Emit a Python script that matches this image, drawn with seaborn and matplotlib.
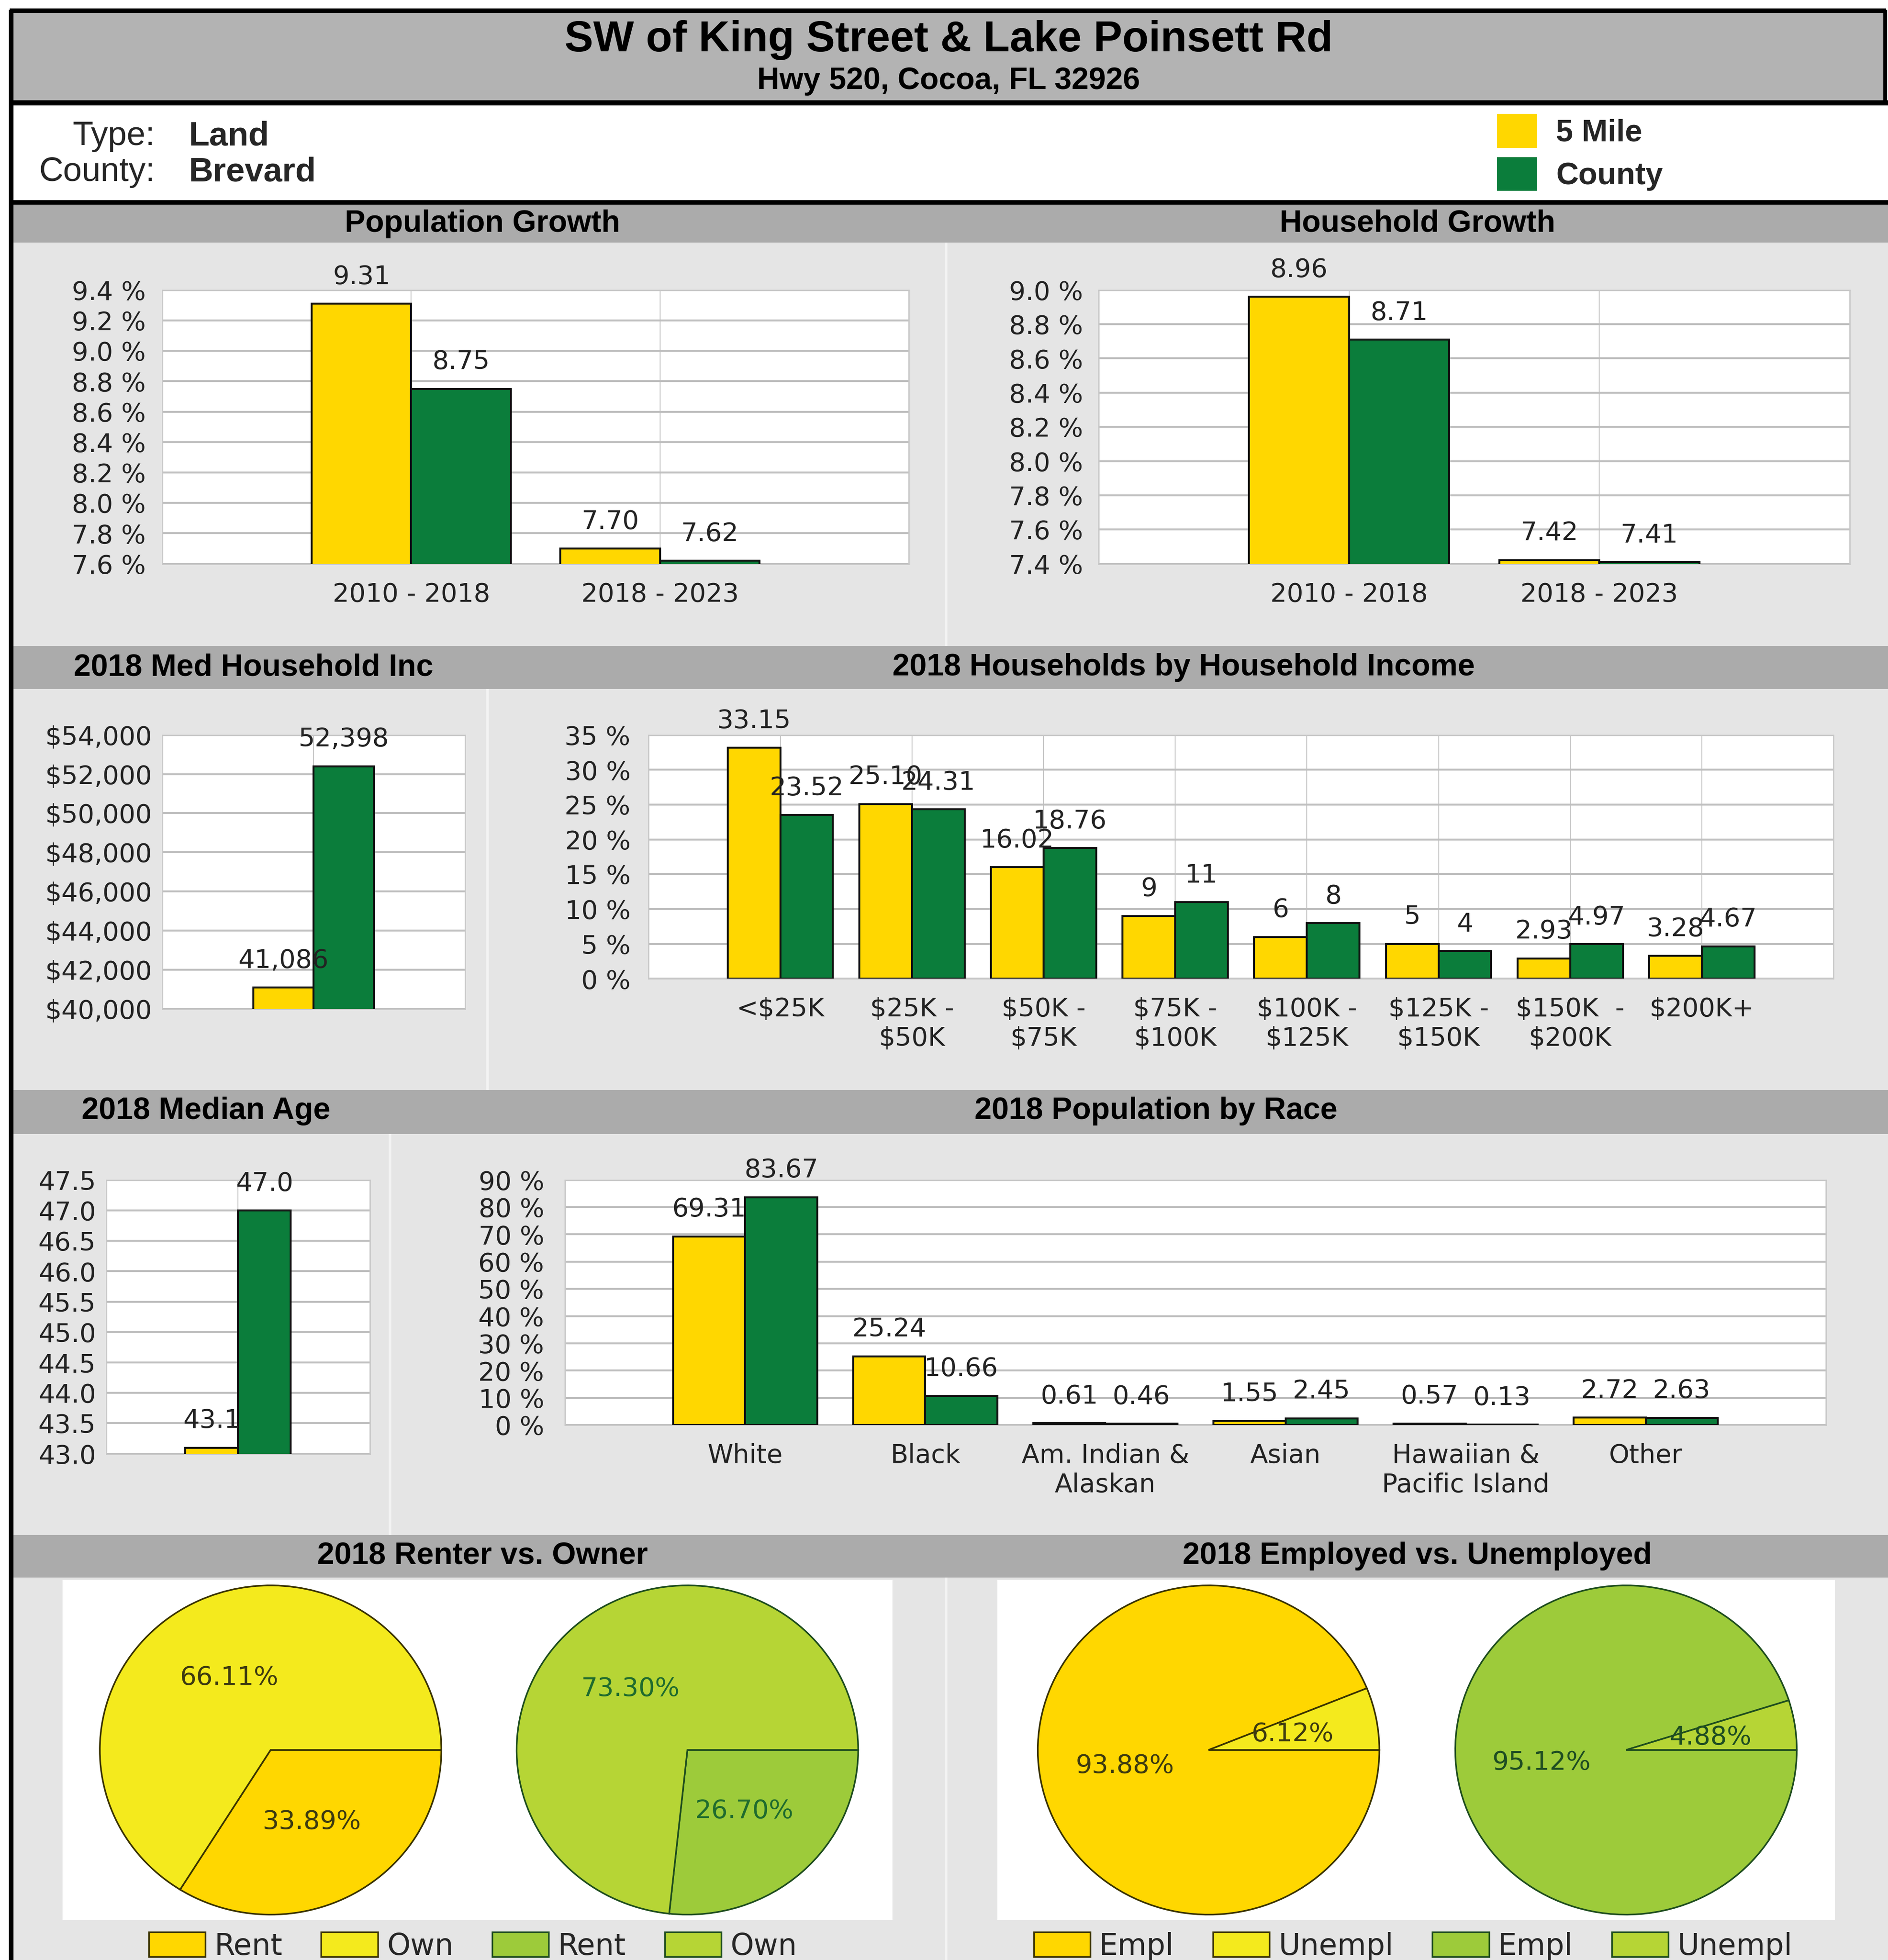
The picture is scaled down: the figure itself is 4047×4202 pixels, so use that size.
#%% imports
import pandas as pd
import matplotlib
matplotlib.use('Agg')
import matplotlib.pyplot as plt
from matplotlib.patches import Rectangle, Patch
from matplotlib.lines import Line2D
import seaborn as sns

#%% data
areas = ['5 Mile', 'County']

growth_periods = ['2010 - 2018', '2018 - 2023']
pop_growth_5mi = [9.31, 7.70]
pop_growth_county = [8.75, 7.62]
hh_growth_5mi = [8.96, 7.42]
hh_growth_county = [8.71, 7.41]

med_inc_cat = ['2018']
med_inc_5mi = [41086]
med_inc_county = [52398]

income_bands = ['<$25K', '$25K -\n$50K', '$50K -\n$75K', '$75K -\n$100K',
                '$100K -\n$125K', '$125K -\n$150K', '$150K  -\n$200K', '$200K+']
income_5mi = [33.15, 25.10, 16.02, 9, 6, 5, 2.93, 3.28]
income_county = [23.52, 24.31, 18.76, 11, 8, 4, 4.97, 4.67]

med_age_cat = ['2018']
med_age_5mi = [43.1]
med_age_county = [47.0]

races = ['White', 'Black', 'Am. Indian &\nAlaskan', 'Asian',
         'Hawaiian &\nPacific Island', 'Other']
race_5mi = [69.31, 25.24, 0.61, 1.55, 0.57, 2.72]
race_county = [83.67, 10.66, 0.46, 2.45, 0.13, 2.63]

tenure_labels = ['Rent', 'Own']
tenure_5mi = [33.89, 66.11]
tenure_county = [26.70, 73.30]

employ_labels = ['Empl', 'Unempl']
employ_5mi = [93.88, 6.12]
employ_county = [95.12, 4.88]

#%% style
sns.set_style('white')
plt.rcParams['font.family'] = ['DejaVu Sans']
HEAD_FONT = 'Liberation Sans'

YELLOW = '#FFD700'
GREEN = '#0B7D3B'
LEMON = '#F4EA1D'
LIME_D = '#9DCB3A'
LIME_L = '#B6D535'
TXT = '#222222'
GRID = '#BEBEBE'
VGRID = '#C8C8C8'
SPINE = '#C8C8C8'
BAND = '#ABABAB'
PANEL = '#E5E5E5'
FS = 40  # chart text size

fig = plt.figure(figsize=(40.48, 42.02), dpi=100, facecolor='white')

# layout was measured on a 1511 x 1568 copy of the report
SW, SH = 1511, 1568


def fx(x):
    return x / SW


def fy(y):
    return 1 - y / SH


def fbox(x0, y0, x1, y1):
    return [fx(x0), fy(y1), fx(x1) - fx(x0), fy(y0) - fy(y1)]


def rect(x0, y0, x1, y1, color, z=-10):
    fig.add_artist(Rectangle((fx(x0), fy(y1)), fx(x1) - fx(x0), fy(y0) - fy(y1),
                             transform=fig.transFigure, facecolor=color,
                             edgecolor='none', zorder=z))


def line(x0, y0, x1, y1, lw, color='black', z=-5):
    fig.add_artist(Line2D([fx(x0), fx(x1)], [fy(y0), fy(y1)], transform=fig.transFigure,
                          color=color, lw=lw, zorder=z, solid_capstyle='butt'))


def head(x, y, s, size=47.5):
    fig.text(fx(x), fy(y), s, ha='center', va='center', fontsize=size,
             fontweight='bold', family=HEAD_FONT, color='black')


#%% page background
rect(8, 10, 1509, 82, '#B3B3B3')
for y0, y1 in [(164, 194), (517, 551), (872, 907), (1228, 1262)]:
    rect(11, y0, 1511, y1, BAND)
for y0, y1 in [(194, 517), (551, 872), (907, 1228), (1262, 1568)]:
    rect(11, y0, 1511, y1, PANEL)
for x, y0, y1 in [(757, 194, 517), (390, 551, 872), (312, 907, 1228), (757, 1262, 1568)]:
    line(x, y0, x, y1, 4, color='#F3F3F3')
rect(50, 1264, 714, 1536, 'white', z=-8)
rect(798, 1264, 1468, 1536, 'white', z=-8)

line(8, 8.5, 1509, 8.5, 7)
line(8, 82, 1511, 82, 8)
line(8, 162, 1511, 162, 7)
line(9, 8, 9, 1568, 7)
line(1508.5, 8, 1508.5, 82, 6)

#%% header
head(759, 32, 'SW of King Street & Lake Poinsett Rd', size=66.5)
head(759, 65, 'Hwy 520, Cocoa, FL 32926', size=47.5)
fig.text(fx(124), fy(109), 'Type:', ha='right', va='center', fontsize=52, family=HEAD_FONT)
fig.text(fx(124), fy(138), 'County:', ha='right', va='center', fontsize=52, family=HEAD_FONT)
fig.text(fx(151), fy(109), 'Land', ha='left', va='center', fontsize=52,
         family=HEAD_FONT, fontweight='bold')
fig.text(fx(151), fy(138), 'Brevard', ha='left', va='center', fontsize=52,
         family=HEAD_FONT, fontweight='bold')

fig.legend(handles=[Patch(facecolor=YELLOW, edgecolor='none'),
                    Patch(facecolor=GREEN, edgecolor='none')],
           labels=areas, loc='upper left', bbox_to_anchor=(fx(1198), fy(91)),
           frameon=False, prop=dict(family=HEAD_FONT, weight='bold', size=48),
           handlelength=1.29, handleheight=1.3, labelspacing=0.3,
           handletextpad=0.6, borderpad=0, borderaxespad=0)

head(386, 179, 'Population Growth')
head(1134, 179, 'Household Growth')
head(203, 534, '2018 Med Household Inc')
head(947, 534, '2018 Households by Household Income')
head(165, 889, '2018 Median Age')
head(925, 889, '2018 Population by Race')
head(386, 1245, '2018 Renter vs. Owner')
head(1134, 1245, '2018 Employed vs. Unemployed')


#%% bar panels
def bar_panel(box, cats, five, county, ylim, yticks, yfmt, vfmt, ypad,
              vgrid=True, show_x=True):
    ax = fig.add_axes(fbox(*box))
    n = len(cats)
    df = pd.DataFrame({'category': list(cats) * 2,
                       'area': [areas[0]] * n + [areas[1]] * n,
                       'value': list(five) + list(county)})
    sns.barplot(data=df, x='category', y='value', hue='area', order=cats,
                hue_order=areas, palette=[YELLOW, GREEN], saturation=1,
                errorbar=None, edgecolor='#111111', linewidth=3, legend=False,
                ax=ax, zorder=3)
    ax.set_xlim(-1, n)
    ax.set_ylim(*ylim)
    ax.set_yticks(yticks)
    ax.set_yticklabels([yfmt(v) for v in yticks])
    ax.set_xlabel('')
    ax.set_ylabel('')
    ax.set_facecolor('white')
    ax.set_axisbelow(True)
    ax.yaxis.grid(True, color=GRID, lw=3)
    if vgrid:
        ax.xaxis.grid(True, color=VGRID, lw=1.5)
    else:
        ax.xaxis.grid(False)
    ax.tick_params(axis='both', length=0, labelsize=FS, labelcolor=TXT)
    ax.tick_params(axis='y', pad=ypad)
    ax.tick_params(axis='x', pad=28)
    if not show_x:
        ax.set_xticklabels([''] * n)
    for s in ax.spines.values():
        s.set_color(SPINE)
        s.set_linewidth(2)
    for cont, vals in zip(ax.containers, [five, county]):
        ax.bar_label(cont, labels=[vfmt(v) for v in vals], padding=22,
                     fontsize=FS, color=TXT)
    return ax


def pct_tick(v):
    return '{:.1f} %'.format(v)


def two_dec(v):
    return '{:.2f}'.format(v)


def inc_lbl(v):
    return str(int(v)) if v == int(v) else '{:.2f}'.format(v)


bar_panel((130, 232, 727, 451), growth_periods, pop_growth_5mi, pop_growth_county,
          (7.6, 9.4), [7.6 + 0.2 * i for i in range(10)], pct_tick, two_dec, 26)
bar_panel((879, 232, 1480, 451), growth_periods, hh_growth_5mi, hh_growth_county,
          (7.4, 9.0), [7.4 + 0.2 * i for i in range(9)], pct_tick, two_dec, 24)
bar_panel((130, 588, 372, 807), med_inc_cat, med_inc_5mi, med_inc_county,
          (40000, 54000), list(range(40000, 54001, 2000)),
          lambda v: '${:,.0f}'.format(v), lambda v: '{:,.0f}'.format(v), 16,
          show_x=False)
bar_panel((519, 588, 1467, 783), income_bands, income_5mi, income_county,
          (0, 35), list(range(0, 36, 5)), lambda v: '{:.0f} %'.format(v), inc_lbl, 28)
bar_panel((85, 944, 296, 1163), med_age_cat, med_age_5mi, med_age_county,
          (43.0, 47.5), [43.0 + 0.5 * i for i in range(10)],
          lambda v: '{:.1f}'.format(v), lambda v: '{:.1f}'.format(v), 16,
          show_x=False)
bar_panel((452, 944, 1461, 1140), races, race_5mi, race_county,
          (0, 90), list(range(0, 91, 10)), lambda v: '{:.0f} %'.format(v), two_dec, 32,
          vgrid=False)


#%% pies
def pie_panel(cx, cy, rx, ry, vals, colors, edge, tcolor):
    ax = fig.add_axes(fbox(cx - rx, cy - ry, cx + rx, cy + ry))
    ax.pie(vals, colors=colors, startangle=0, counterclock=False,
           autopct='%.2f%%', pctdistance=0.5,
           wedgeprops=dict(edgecolor=edge, linewidth=2.5),
           textprops=dict(fontsize=FS, color=tcolor))
    ax.set_aspect('auto')
    ax.set_xlim(-1.01, 1.01)
    ax.set_ylim(-1.01, 1.01)
    return ax


pie_panel(216.5, 1400, 138, 133, tenure_5mi, [YELLOW, LEMON], '#3A3300', '#3D3A10')
pie_panel(550, 1400, 138, 133, tenure_county, [LIME_D, LIME_L], '#1E4D1E', '#1F6B2E')
pie_panel(967, 1400, 138, 133, employ_5mi, [YELLOW, LEMON], '#3A3300', '#3D3A10')
pie_panel(1301, 1400, 138, 133, employ_county, [LIME_D, LIME_L], '#1E4D1E', '#1E4D22')


def pie_legend(x, labels):
    handles = [Patch(facecolor=YELLOW, edgecolor='#3A3300', lw=2.5),
               Patch(facecolor=LEMON, edgecolor='#3A3300', lw=2.5),
               Patch(facecolor=LIME_D, edgecolor='#1E4D1E', lw=2.5),
               Patch(facecolor=LIME_L, edgecolor='#1E4D1E', lw=2.5)]
    fig.legend(handles=handles, labels=labels * 2, ncol=4, loc='center left',
               bbox_to_anchor=(fx(x), fy(1557)), frameon=False, fontsize=46,
               handlelength=1.9, handleheight=0.92, handletextpad=0.3,
               columnspacing=1.3, borderpad=0, borderaxespad=0)


pie_legend(119, tenure_labels)
pie_legend(827, employ_labels)

fig.savefig('out.png', dpi=100, facecolor='white')
